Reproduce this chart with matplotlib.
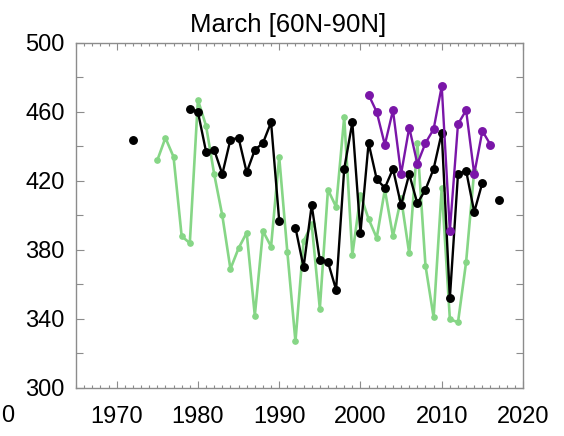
import numpy as np
import matplotlib
matplotlib.use("Agg")
import matplotlib.pyplot as plt
from matplotlib.ticker import MultipleLocator

plt.rcParams['font.family'] = ['Liberation Sans', 'DejaVu Sans']

# Green series (1975-2014)
green_years = list(range(1975, 2015))
green_vals = [432, 445, 434, 388, 384, 467, 452, 424, 400, 369,
              381, 390, 342, 391, 382, 434, 379, 327, 385, 395,
              346, 415, 405, 457, 377, 412, 398, 387, 415, 388,
              410, 378, 442, 371, 341, 416, 340, 338, 373, 426]

# Black series (gaps where no value)
black_years = list(range(1972, 2018))
black_vals = [444, None, None, None, None, None, None, 462, 460, 437,
              438, 424, 444, 445, 425, 438, 442, 454, 397, None,
              393, 370, 406, 374, 373, 357, 427, 454, 390, 442,
              421, 416, 427, 406, 424, 407, 415, 427, 448, 352,
              424, 426, 402, 419, None, 409]

# Purple series (2001-2016)
purple_years = list(range(2001, 2017))
purple_vals = [470, 460, 441, 461, 424, 451, 430, 442, 450, 475,
               391, 453, 461, 424, 449, 441]

x_ticks = [1970, 1980, 1990, 2000, 2010, 2020]
y_ticks = [300, 340, 380, 420, 460, 500]


def as_array(vals):
    return np.array([np.nan if v is None else v for v in vals], dtype=float)


fig = plt.figure(figsize=(5.64, 4.36), dpi=100)
ax = fig.add_axes([0.1348, 0.1101, 0.7925, 0.7913])

ax.plot(green_years, as_array(green_vals), color='#86d686', lw=1.9,
        marker='o', ms=3.8, mec='#86d686', mfc='#86d686', zorder=2)
ax.plot(black_years, as_array(black_vals), color='black', lw=1.7,
        marker='o', ms=5.4, zorder=3)
ax.plot(purple_years, as_array(purple_vals), color='#7a16a8', lw=1.7,
        marker='o', ms=5.4, mec='#7a16a8', mfc='#7a16a8', zorder=4)

ax.set_xlim(1965, 2020)
ax.set_ylim(300, 500)
ax.set_xticks(x_ticks)
ax.set_yticks(y_ticks)
ax.xaxis.set_minor_locator(MultipleLocator(1))
ax.yaxis.set_minor_locator(MultipleLocator(20))

spine_col = '#8c8c8c'
for s in ax.spines.values():
    s.set_color(spine_col)
    s.set_linewidth(1.0)

ax.tick_params(axis='both', which='both', direction='in', color=spine_col,
               top=True, right=True, labelsize=17, width=0.8)
ax.tick_params(axis='x', which='major', length=5, pad=13)
ax.tick_params(axis='x', which='minor', length=2.5)
ax.tick_params(axis='y', which='major', length=6, pad=8)
ax.tick_params(axis='y', which='minor', length=5)

ax.set_title('March [60N-90N]', fontsize=18.5, pad=8, x=0.474)

# Last digit of the neighbouring panel's year label at the left edge
fig.text(1 / 564, 1 - 416 / 436, '0', fontsize=17, ha='left', va='center')

fig.savefig('out.png', dpi=100)
